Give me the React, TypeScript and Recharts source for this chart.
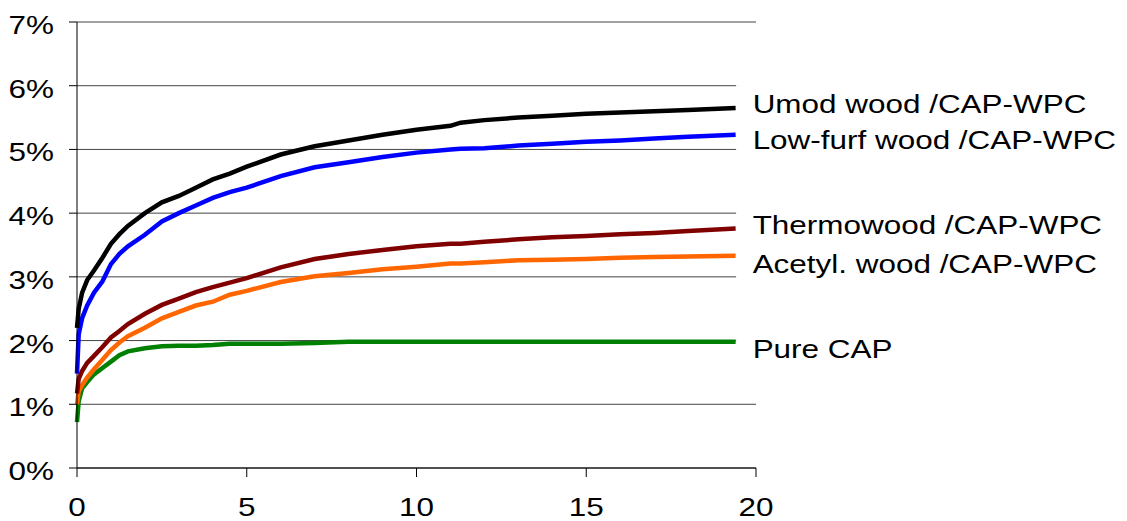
import React from "react";
import {
  LineChart,
  Line,
  XAxis,
  YAxis,
  CartesianGrid,
  LabelList,
} from "recharts";

// time axis (h) shared by every curve
const hours = [
  0, 0.05, 0.15, 0.3, 0.5, 0.75, 1, 1.25, 1.5, 2, 2.5, 3, 3.5, 4, 4.5, 5, 6, 7,
  8, 9, 10, 11, 11.3, 12, 13, 14, 15, 16, 17, 18, 19.4,
];

// moisture uptake (%) per material
const umod = [
  2.2, 2.5, 2.75, 2.95, 3.1, 3.3, 3.52, 3.67, 3.8, 4.0, 4.17, 4.27, 4.4, 4.53,
  4.62, 4.73, 4.92, 5.05, 5.14, 5.23, 5.31, 5.37, 5.42, 5.46, 5.5, 5.53, 5.56,
  5.58, 5.6, 5.62, 5.65,
];
const lowFurf = [
  1.48, 2.1, 2.35, 2.55, 2.75, 2.93, 3.2, 3.36, 3.48, 3.66, 3.87, 4.0, 4.12,
  4.24, 4.33, 4.4, 4.58, 4.72, 4.8, 4.88, 4.95, 5.0, 5.01, 5.02, 5.06, 5.09,
  5.12, 5.14, 5.17, 5.2, 5.23,
];
const thermo = [
  1.17, 1.4, 1.52, 1.65, 1.76, 1.9, 2.05, 2.15, 2.26, 2.42, 2.56, 2.66, 2.76,
  2.84, 2.91, 2.98, 3.15, 3.28, 3.36, 3.42, 3.48, 3.52, 3.52, 3.55, 3.59, 3.62,
  3.64, 3.67, 3.69, 3.72, 3.76,
];
const acetyl = [
  1.0, 1.2, 1.3, 1.42, 1.55, 1.7, 1.85, 1.97, 2.07, 2.2, 2.35, 2.45, 2.55, 2.61,
  2.72, 2.78, 2.92, 3.01, 3.06, 3.12, 3.16, 3.21, 3.21, 3.23, 3.26, 3.27, 3.28,
  3.3, 3.31, 3.32, 3.33,
];
const pureCap = [
  0.72, 1.05, 1.25, 1.35, 1.47, 1.57, 1.67, 1.77, 1.83, 1.88, 1.91, 1.92, 1.92,
  1.93, 1.95, 1.95, 1.95, 1.96, 1.98, 1.98, 1.98, 1.98, 1.98, 1.98, 1.98, 1.98,
  1.98, 1.98, 1.98, 1.98, 1.98,
];

const xTicks = [0, 5, 10, 15, 20];
const yTicks = [0, 1, 2, 3, 4, 5, 6, 7];

const data = hours.map((h, i) => ({
  h,
  umod: umod[i],
  lowFurf: lowFurf[i],
  thermo: thermo[i],
  acetyl: acetyl[i],
  pureCap: pureCap[i],
}));

const FONT = "'Liberation Sans', Arial, sans-serif";
const STRETCH = 1.21; // the original text is drawn a bit wide

// drawn bottom to top
const series = [
  { key: "pureCap", name: "Pure CAP", color: "#008000", dy: 16 },
  { key: "acetyl", name: "Acetyl. wood /CAP-WPC", color: "#ff6600", dy: 17 },
  { key: "thermo", name: "Thermowood /CAP-WPC", color: "#800000", dy: 6 },
  { key: "lowFurf", name: "Low-furf wood /CAP-WPC", color: "#0000ff", dy: 14 },
  { key: "umod", name: "Umod wood /CAP-WPC", color: "#000000", dy: 5 },
];

const YTick = (props: any) => {
  const { x, y, payload } = props;
  return (
    <text
      transform={`translate(${x},${y + 12}) scale(${STRETCH},1)`}
      textAnchor="end"
      fontSize={26}
      fontFamily={FONT}
      fill="#000"
    >
      {`${payload.value}%`}
    </text>
  );
};

const XTick = (props: any) => {
  const { x, y, payload } = props;
  return (
    <text
      transform={`translate(${x},${y + 37}) scale(${STRETCH},1)`}
      textAnchor="middle"
      fontSize={26}
      fontFamily={FONT}
      fill="#000"
    >
      {payload.value}
    </text>
  );
};

// end-of-line label with a white box that hides the gridlines behind it
const endLabel = (name: string, dy: number) => (props: any) => {
  const { x, y, index } = props;
  if (index !== hours.length - 1) return null;
  const base = y + dy;
  return (
    <g>
      <rect x={x + 0.5} y={base - 28} width={40} height={36} fill="#fff" />
      <text
        transform={`translate(${x + 17},${base}) scale(${STRETCH},1)`}
        fontSize={26}
        fontFamily={FONT}
        fill="#000"
      >
        {name}
      </text>
    </g>
  );
};

export default function App() {
  return (
    <div style={{ position: "absolute", left: 0, top: 0, background: "#fff" }}>
      <LineChart
        width={1127}
        height={521}
        data={data}
        margin={{ top: 22, right: 371, bottom: 0, left: 0 }}
      >
        <CartesianGrid vertical={false} stroke="#444" strokeWidth={1} />
        <XAxis
          dataKey="h"
          type="number"
          domain={[0, 20]}
          ticks={xTicks}
          interval={0}
          height={53}
          tickSize={9}
          tickMargin={2}
          stroke="#000"
          tick={XTick}
        />
        <YAxis
          type="number"
          domain={[0, 7]}
          ticks={yTicks}
          interval={0}
          width={77}
          tickSize={8}
          tickMargin={15}
          stroke="#000"
          tick={YTick}
        />
        {series.map((s) => (
          <Line
            key={s.key}
            dataKey={s.key}
            type="linear"
            stroke={s.color}
            strokeWidth={4.5}
            dot={false}
            activeDot={false}
            isAnimationActive={false}
          >
            <LabelList dataKey={s.key} content={endLabel(s.name, s.dy)} />
          </Line>
        ))}
      </LineChart>
    </div>
  );
}
